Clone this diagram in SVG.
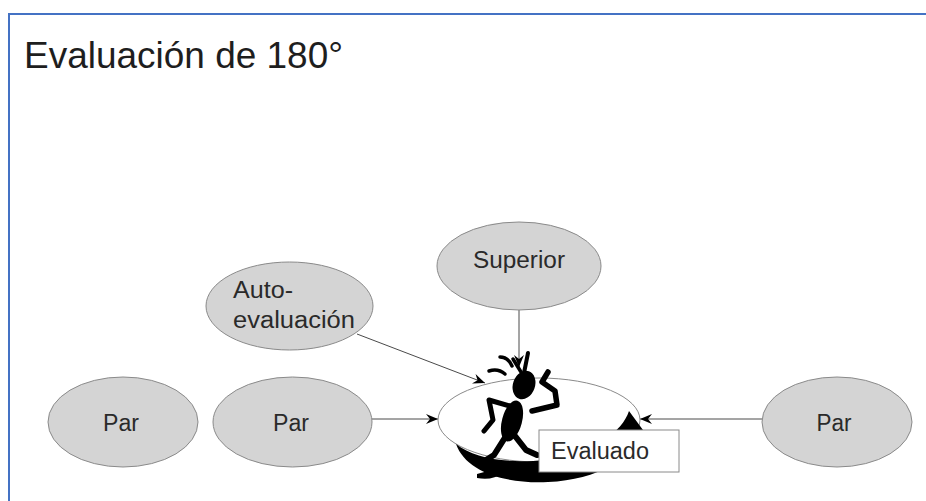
<svg xmlns="http://www.w3.org/2000/svg" width="926" height="501" viewBox="0 0 926 501">
  <style>
    .node { fill: #d4d4d4; stroke: #8a8a8a; stroke-width: 1; }
    .lbl { font-family: "Liberation Sans", Arial, sans-serif; font-size: 23px; fill: #2a2a2a; }
    .edge { stroke: #4a4a4a; stroke-width: 1; fill: none; marker-end: url(#barb); }
    .ink { fill: #000; }
    .limb { stroke: #000; fill: none; stroke-linecap: round; stroke-linejoin: round; }
  </style>
  <defs>
    <marker id="barb" markerUnits="userSpaceOnUse" markerWidth="14" markerHeight="12" viewBox="-13 -6 14 12" refX="0" refY="0" orient="auto">
      <path d="M0,0 L-12,-5 L-8,0 L-12,5 Z" fill="#000"/>
    </marker>
  </defs>

  <rect width="926" height="501" fill="#fff"/>
  <!-- slide frame -->
  <path d="M9,501 V14 H926" fill="none" stroke="#4472c4" stroke-width="2"/>

  <text id="title" x="24" y="68" font-family="Liberation Sans, Arial, sans-serif" font-size="36" fill="#1e1e1e" textLength="319" lengthAdjust="spacingAndGlyphs">Evaluación de 180°</text>

  <g id="connectors">
    <line class="edge" x1="519" y1="310" x2="519" y2="367"/>
    <line class="edge" x1="357" y1="334" x2="485" y2="383"/>
    <line class="edge" x1="372" y1="419" x2="438" y2="419"/>
    <line class="edge" x1="762" y1="419" x2="640" y2="419"/>
  </g>

  <g id="par-1">
    <ellipse class="node" cx="123" cy="422" rx="75" ry="45"/>
    <text class="lbl" x="121" y="431" text-anchor="middle" textLength="36" lengthAdjust="spacingAndGlyphs">Par</text>
  </g>
  <g id="par-2">
    <ellipse class="node" cx="292.5" cy="422" rx="79.5" ry="45"/>
    <text class="lbl" x="291" y="431" text-anchor="middle" textLength="36" lengthAdjust="spacingAndGlyphs">Par</text>
  </g>
  <g id="par-3">
    <ellipse class="node" cx="837" cy="422" rx="75" ry="45"/>
    <text class="lbl" x="834" y="431" text-anchor="middle" textLength="35" lengthAdjust="spacingAndGlyphs">Par</text>
  </g>
  <g id="superior">
    <ellipse class="node" cx="519" cy="266" rx="82" ry="44"/>
    <text class="lbl" x="519" y="268" text-anchor="middle" textLength="92" lengthAdjust="spacingAndGlyphs">Superior</text>
  </g>
  <g id="autoevaluacion">
    <ellipse class="node" cx="289.5" cy="306" rx="83.5" ry="44"/>
    <text class="lbl" x="233" y="298" textLength="60" lengthAdjust="spacingAndGlyphs">Auto-</text>
    <text class="lbl" x="233" y="328" textLength="122" lengthAdjust="spacingAndGlyphs">evaluación</text>
  </g>

  <g id="evaluado">
    <ellipse cx="539" cy="420" rx="101" ry="42" fill="#fff" stroke="#8a8a8a" stroke-width="1"/>
    <!-- shadow crescent under the ellipse -->
    <path class="ink" d="M456,444 C466,472 505,484 548,482 C598,480 634,458 643,430 L629,411 C622,432 595,452 545,460 C505,464 474,458 456,444 Z"/>
    <!-- dancing figure -->
    <g id="figure">
      <ellipse class="ink" cx="524" cy="385" rx="11" ry="14.5" transform="rotate(20 524 385)"/>
      <ellipse class="ink" cx="512" cy="421" rx="10" ry="21" transform="rotate(15 512 421)"/>
      <path class="limb" stroke-width="4" d="M524,373 L528,353"/>
      <path class="limb" stroke-width="3.5" d="M521,372 L513,359"/>
      <path class="limb" stroke-width="3.5" d="M500,357 Q508,357 512,366"/>
      <path class="limb" stroke-width="3.5" d="M489,371 Q498,368 505,374"/>
      <path class="limb" stroke-width="5.5" d="M532,411 L557,405 L555,391 L542,382 L548,372"/>
      <path class="limb" stroke-width="5" d="M510,406 L489,400 L493,420 L484,431"/>
      <path class="limb" stroke-width="6" d="M506,436 L494,455 L486,460"/>
      <path class="limb" stroke-width="6" d="M515,436 L526,450 L537,455"/>
      <path class="ink" d="M477,474 Q490,469 503,473 Q492,481 477,478 Z"/>
    </g>
    <rect x="539" y="430" width="140" height="42" fill="#fff" stroke="#8a8a8a" stroke-width="1"/>
    <text class="lbl" x="551" y="459" textLength="98" lengthAdjust="spacingAndGlyphs">Evaluado</text>
  </g>
</svg>
